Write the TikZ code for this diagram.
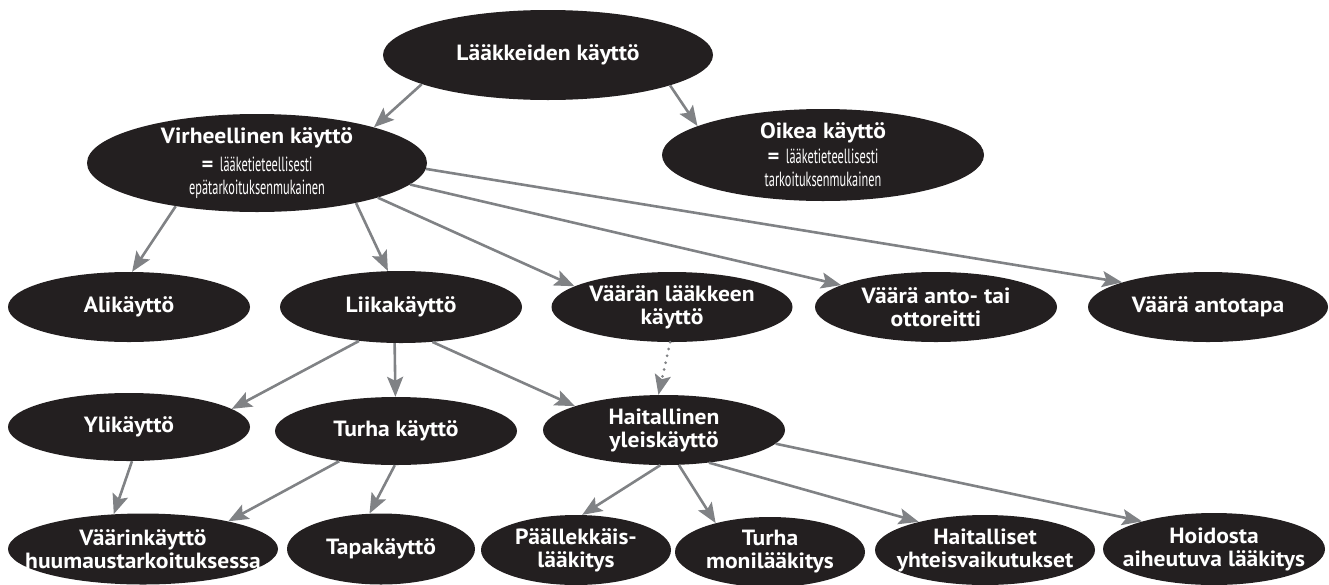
\documentclass[tikz,border=0pt]{standalone}
\usepackage{fontspec}
\setmainfont{PT Sans}[BoldFeatures={FakeStretch=1.07}]
\newfontfamily\ohut[FakeStretch=0.6]{PT Sans}
\usetikzlibrary{shapes,arrows.meta}
\definecolor{musta}{RGB}{35,31,32}
\definecolor{nuoli}{RGB}{128,130,133}
\newcommand{\pieni}[1]{{\ohut\mdseries\fontsize{20.5}{22}\selectfont #1}}
\newcommand{\yhta}{{\normalfont\bfseries\fontsize{21}{22}\selectfont =}\ \ }

\begin{document}
\begin{tikzpicture}[x=1pt,y=-1pt,
    el/.style={ellipse,fill=musta,text=white,inner xsep=-40pt,inner ysep=-12pt,align=center,
      font=\bfseries\fontsize{22}{23}\selectfont},
    arr/.style={nuoli,line width=2.6pt,-{Stealth[length=20pt,width=16pt,inset=4pt]}}]
  \useasboundingbox (0,0) rectangle (1329,584);

  \node[el,minimum width=330pt,minimum height=90pt] (KAYTTO) at (548,55) {Lääkkeiden käyttö};
  \node[el,minimum width=340pt,minimum height=98pt] (VIRHE) at (257,163)
    {Virheellinen käyttö\\[5pt]\pieni{\yhta lääketieteellisesti}\\\pieni{epätarkoituksenmukainen}};
  \node[el,minimum width=322pt,minimum height=92pt] (OIKEA) at (823,155)
    {Oikea käyttö\\[2pt]\pieni{\yhta lääketieteellisesti}\\\pieni{tarkoituksenmukainen}};

  \node[el,minimum width=242pt,minimum height=70pt] (ALI) at (129,307) {Alikäyttö};
  \node[el,minimum width=242pt,minimum height=72pt] (LIIKA) at (401,307) {Liikakäyttö};
  \node[el,minimum width=241pt,minimum height=70pt] (VLAAKE) at (672,307) {Väärän lääkkeen\\käyttö};
  \node[el,minimum width=242pt,minimum height=70pt] (VREITTI) at (936,307) {Väärä anto- tai\\ottoreitti};
  \node[el,minimum width=240pt,minimum height=70pt] (VTAPA) at (1208,307) {Väärä antotapa};

  \node[el,minimum width=242pt,minimum height=68pt] (YLI) at (129,427) {Ylikäyttö};
  \node[el,minimum width=242pt,minimum height=68pt] (TURHA) at (396,431) {Turha käyttö};
  \node[el,minimum width=242pt,minimum height=70pt] (HAITYL) at (664,430) {Haitallinen\\yleiskäyttö};

  \node[el,minimum width=270pt,minimum height=71pt] (VAARIN) at (143,549) {Väärinkäyttö\\huumaustarkoituksessa};
  \node[el,minimum width=188pt,minimum height=71pt] (TAPA) at (381,549) {Tapakäyttö};
  \node[el,minimum width=190pt,minimum height=70pt] (PAALL) at (576,550) {Päällekkäis-\\lääkitys};
  \node[el,minimum width=190pt,minimum height=70pt] (MONI) at (770,552) {Turha\\monilääkitys};
  \node[el,minimum width=220pt,minimum height=70pt] (YHTEIS) at (985,550) {Haitalliset\\yhteisvaikutukset};
  \node[el,minimum width=222pt,minimum height=72pt] (HOITO) at (1214,549) {Hoidosta\\aiheutuva lääkitys};

  \path[arr] (KAYTTO.193) edge (VIRHE.17)
    (KAYTTO.346) edge (OIKEA.167)
    (VIRHE.208) edge (ALI.85)
    (VIRHE.338) edge (LIIKA.110)
    (VIRHE.344) edge (VLAAKE.168)
    (VIRHE.352) edge (VREITTI.167)
    (VIRHE.358) edge (VTAPA.164)
    (LIIKA.219) edge (YLI.10)
    (LIIKA.260) edge (TURHA.91)
    (LIIKA.312) edge (HAITYL.165)
    (YLI.275) edge (VAARIN.130)
    (TURHA.208) edge (VAARIN.18)
    (TURHA.268) edge (TAPA.108)
    (HAITYL.264) edge (PAALL.80)
    (HAITYL.293) edge (MONI.152)
    (HAITYL.324) edge (YHTEIS.157)
    (HAITYL.353) edge (HOITO.159);

  \path[arr,line width=3pt,line cap=round,dash pattern=on 0pt off 7pt] (VLAAKE.267) edge (HAITYL.99);
\end{tikzpicture}
\end{document}
